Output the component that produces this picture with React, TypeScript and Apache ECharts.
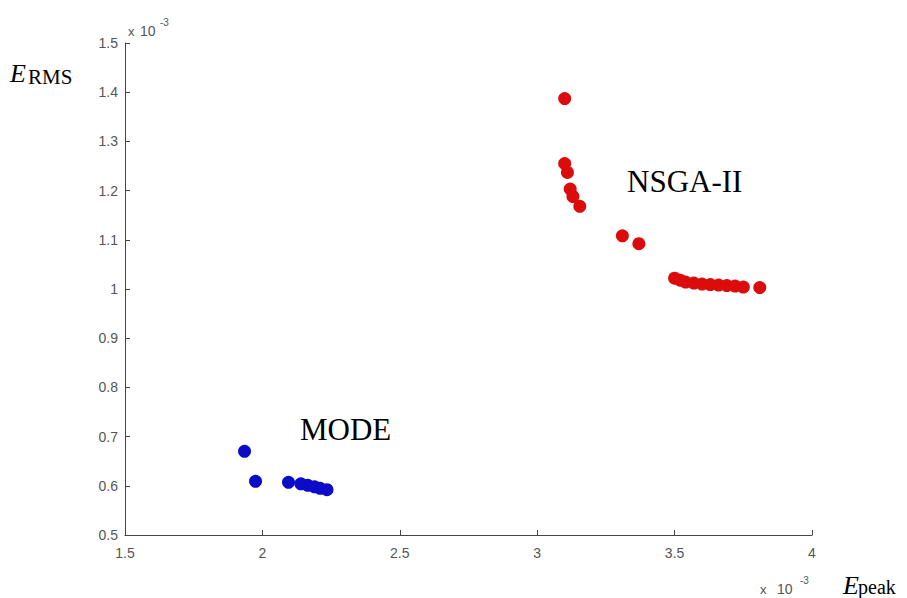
import React, { useEffect, useRef } from "react";
import * as echarts from "echarts";

// values in units of 1e-3
const xTicks = [1.5, 2, 2.5, 3, 3.5, 4];
const yTicks = [0.5, 0.6, 0.7, 0.8, 0.9, 1, 1.1, 1.2, 1.3, 1.4, 1.5];

const nsgaPeak = [3.1, 3.1, 3.11, 3.12, 3.13, 3.155, 3.31, 3.37, 3.5, 3.52, 3.54, 3.57, 3.6, 3.63, 3.66, 3.69, 3.72, 3.75, 3.81];
const nsgaRms = [1.387, 1.255, 1.237, 1.203, 1.188, 1.168, 1.108, 1.092, 1.022, 1.018, 1.014, 1.012, 1.01, 1.009, 1.008, 1.007, 1.006, 1.004, 1.003];

const modePeak = [1.935, 1.975, 2.095, 2.14, 2.165, 2.19, 2.21, 2.235];
const modeRms = [0.67, 0.609, 0.607, 0.604, 0.601, 0.598, 0.595, 0.592];

const SERIF = "'Liberation Serif', 'Times New Roman', serif";
const SANS = "'Liberation Sans', Arial, sans-serif";

export default function App() {
  const ref = useRef<HTMLDivElement>(null);
  useEffect(() => {
    document.body.style.margin = "0";
    if (!ref.current) return;
    const chart = echarts.init(ref.current, undefined, { renderer: "svg" });
    const axisColor = "#444";
    const labelColor = "#555";
    const fmt = (v: number) => String(Math.round(v * 10) / 10);
    const t = (text: string, x: number, y: number, font: string, fill: string, lh: number) => ({
      type: "text",
      x,
      y,
      style: { text, font, fill, verticalAlign: "middle", lineHeight: lh },
    });
    chart.setOption({
      animation: false,
      backgroundColor: "#fff",
      grid: { left: 125, right: 95, top: 43, bottom: 63, containLabel: false, outerBoundsMode: "none" },
      xAxis: {
        type: "value",
        min: xTicks[0],
        max: xTicks[xTicks.length - 1],
        interval: 0.5,
        axisLine: { show: true, lineStyle: { color: axisColor, width: 1 } },
        axisTick: { show: true, inside: true, length: 5, lineStyle: { color: axisColor } },
        axisLabel: { color: labelColor, fontFamily: SANS, fontSize: 14, margin: 11, formatter: fmt },
        splitLine: { show: false },
      },
      yAxis: {
        type: "value",
        min: yTicks[0],
        max: yTicks[yTicks.length - 1],
        interval: 0.1,
        axisLine: { show: true, lineStyle: { color: axisColor, width: 1 } },
        axisTick: { show: true, inside: true, length: 5, lineStyle: { color: axisColor } },
        axisLabel: { color: labelColor, fontFamily: SANS, fontSize: 14, margin: 7, formatter: fmt },
        splitLine: { show: false },
      },
      series: [
        {
          name: "NSGA-II",
          type: "scatter",
          symbolSize: 13,
          itemStyle: { color: "#dc0c0c", opacity: 1 },
          data: nsgaPeak.map((x, i) => [x, nsgaRms[i]]),
        },
        {
          name: "MODE",
          type: "scatter",
          symbolSize: 13,
          itemStyle: { color: "#0b0bc8", opacity: 1 },
          data: modePeak.map((x, i) => [x, modeRms[i]]),
        },
      ],
      graphic: [
        t("E", 10, 73, `italic 26px ${SERIF}`, "#000", 24),
        t("RMS", 28, 77, `21px ${SERIF}`, "#000", 20),
        t("E", 843, 585, `italic 26px ${SERIF}`, "#000", 22),
        t("peak", 858, 587, `20px ${SERIF}`, "#000", 20),
        t("NSGA-II", 627, 181, `31px ${SERIF}`, "#000", 32),
        t("MODE", 300, 429, `31px ${SERIF}`, "#000", 32),
        t("x", 128, 31, `13px ${SANS}`, labelColor, 14),
        t("10", 140, 31, `14px ${SANS}`, labelColor, 14),
        t("-3", 160, 22, `10px ${SANS}`, labelColor, 12),
        t("x", 760, 589, `13px ${SANS}`, labelColor, 14),
        t("10", 777, 589, `14px ${SANS}`, labelColor, 14),
        t("-3", 800, 580, `10px ${SANS}`, labelColor, 12),
      ],
    });
    return () => chart.dispose();
  }, []);
  return <div ref={ref} style={{ width: 907, height: 598 }} />;
}
